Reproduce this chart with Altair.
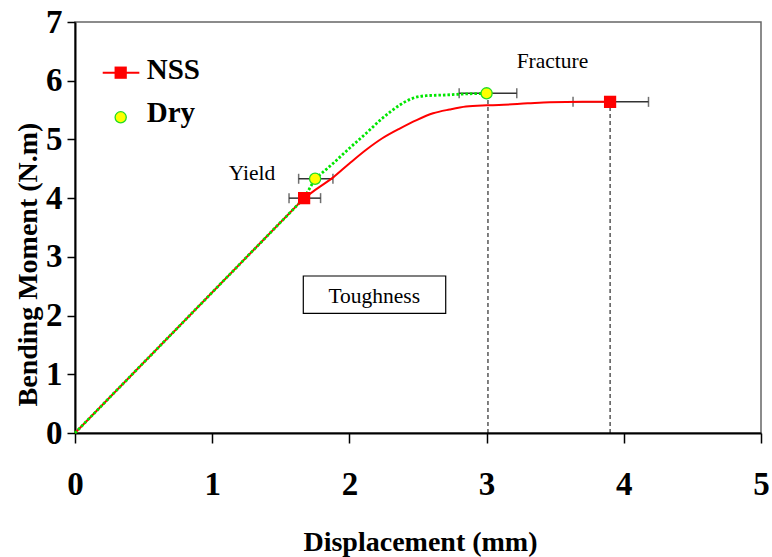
import altair as alt
import pandas as pd

# NSS bending curve (displacement in mm, moment in N.m)
nss_disp = [0.0, 1.67, 1.77, 1.88, 2.00, 2.12, 2.24, 2.37, 2.49, 2.61, 2.73, 2.85, 3.00, 3.09, 3.30, 3.46, 3.70, 3.90]
nss_moment = [0.0, 4.00, 4.17, 4.35, 4.59, 4.82, 5.02, 5.19, 5.33, 5.445, 5.51, 5.56, 5.58, 5.587, 5.615, 5.635, 5.64, 5.64]

# Dry bending curve
dry_disp = [0.0, 1.67, 1.75, 1.88, 2.00, 2.12, 2.24, 2.37, 2.46, 2.56, 2.70, 2.80, 3.00]
dry_moment = [0.0, 4.00, 4.33, 4.59, 4.85, 5.10, 5.36, 5.59, 5.70, 5.745, 5.757, 5.77, 5.785]

# yield / fracture points with displacement spread
pt_series = ["NSS", "NSS", "Dry", "Dry"]
pt_disp = [1.67, 3.90, 1.75, 3.00]
pt_moment = [4.00, 5.64, 4.33, 5.785]
pt_lo = [1.56, 3.63, 1.63, 2.80]
pt_hi = [1.79, 4.18, 1.88, 3.22]

# fracture points dropped to the displacement axis
frac_disp = [3.01, 3.90]
frac_moment = [5.785, 5.64]

SERIF = "Liberation Serif"
RED = "#ff0000"
GREEN = "#00e600"

curve_nss = pd.DataFrame({"d": nss_disp, "m": nss_moment})
curve_dry = pd.DataFrame({"d": dry_disp, "m": dry_moment})
points = pd.DataFrame({"s": pt_series, "d": pt_disp, "m": pt_moment, "lo": pt_lo, "hi": pt_hi})
caps = pd.concat([
    points[["s", "m"]].assign(d=points["lo"]),
    points[["s", "m"]].assign(d=points["hi"]),
])
drops = pd.DataFrame({"d": frac_disp, "m": frac_moment, "base": [0.0] * len(frac_disp)})

xs = alt.Scale(domain=[0, 5], nice=False, zero=False)
ys = alt.Scale(domain=[0, 7], nice=False, zero=False)
x_axis = alt.Axis(values=[0, 1, 2, 3, 4, 5], format="d", title="Displacement (mm)",
                  tickSize=10, labelPadding=25, titleX=345, titleY=117,
                  titleBaseline="alphabetic", titleAlign="center")
y_axis = alt.Axis(values=[0, 1, 2, 3, 4, 5, 6, 7], format="d", title="Bending Moment (N.m)",
                  tickSize=8, labelPadding=5, titleX=-39, titleY=242, titleAngle=270,
                  titleBaseline="alphabetic", titleAlign="center")


def X(field):
    return alt.X(field, type="quantitative", scale=xs, axis=x_axis)


def Y(field):
    return alt.Y(field, type="quantitative", scale=ys, axis=y_axis)


def curve(df, interp, **style):
    return alt.Chart(df).mark_line(interpolate=interp, **style).encode(
        x=X("d"), y=Y("m"), order="d")


drop_lines = alt.Chart(drops).mark_rule(color="black", strokeWidth=1, strokeDash=[4, 3]).encode(
    x=X("d"), y=Y("base"), y2="m")

# "Toughness" label box
box_df = pd.DataFrame({"x1": [1.664], "x2": [2.702], "y1": [2.039], "y2": [2.674]})
box = alt.Chart(box_df).mark_rect(fill="white", stroke="black", strokeWidth=1.2).encode(
    x=X("x1"), x2="x2", y=Y("y1"), y2="y2")

notes_df = pd.DataFrame({
    "t": ["Yield", "Fracture", "Toughness"],
    "x": [1.29, 3.48, 2.181],
    "y": [4.309, 6.211, 2.209],
})
notes = alt.Chart(notes_df).mark_text(font=SERIF, fontSize=21.5, color="black",
                                      align="center", baseline="alphabetic").encode(
    x=X("x"), y=Y("y"), text="t")

err_lines = alt.Chart(points).mark_rule(color="#333333", strokeWidth=1.5).encode(
    x=X("lo"), x2="hi", y=Y("m"))
err_caps = alt.Chart(caps).mark_tick(color="#333333", orient="vertical", size=10, thickness=1.5).encode(
    x=X("d"), y=Y("m"))

# elastic part is straight up to the yield point, plastic part is smooth
nss_style = dict(color=RED, strokeWidth=2)
dry_style = dict(color=GREEN, strokeWidth=2.8, strokeDash=[2.5, 2])
line_nss_el = curve(curve_nss.iloc[:2], "linear", **nss_style)
line_nss_pl = curve(curve_nss.iloc[1:], "monotone", **nss_style)
line_dry_el = curve(curve_dry.iloc[:3], "linear", **dry_style)
line_dry_pl = curve(curve_dry.iloc[2:], "monotone", **dry_style)

sq = alt.Chart(points).transform_filter(alt.datum.s == "NSS").mark_point(
    shape="square", filled=True, size=150, color=RED, opacity=1).encode(x=X("d"), y=Y("m"))
circ = alt.Chart(points).transform_filter(alt.datum.s == "Dry").mark_point(
    shape="circle", filled=True, size=125, fill="#ffff00", stroke="#22dd22", strokeWidth=1.3,
    opacity=1).encode(x=X("d"), y=Y("m"))

# legend drawn inside the plot area
leg_line = pd.DataFrame({"x1": [0.202], "x2": [0.469], "y": [6.137]})
leg_sym = pd.DataFrame({"s": ["NSS", "Dry"], "x": [0.333, 0.333], "y": [6.137, 5.377]})
leg_txt = pd.DataFrame({"t": ["NSS", "Dry"], "x": [0.523, 0.523], "y": [6.024, 5.302]})

leg_rule = alt.Chart(leg_line).mark_rule(color=RED, strokeWidth=2).encode(x=X("x1"), x2="x2", y=Y("y"))
leg_sq = alt.Chart(leg_sym).transform_filter(alt.datum.s == "NSS").mark_point(
    shape="square", filled=True, size=150, color=RED, opacity=1).encode(x=X("x"), y=Y("y"))
leg_circ = alt.Chart(leg_sym).transform_filter(alt.datum.s == "Dry").mark_point(
    shape="circle", filled=True, size=125, fill="#ffff00", stroke="#22dd22", strokeWidth=1.3,
    opacity=1).encode(x=X("x"), y=Y("y"))
leg_text = alt.Chart(leg_txt).mark_text(font=SERIF, fontSize=29, fontWeight="bold", color="black",
                                        align="left", baseline="alphabetic").encode(
    x=X("x"), y=Y("y"), text="t")

chart = alt.layer(
    drop_lines, box, notes, err_lines, err_caps,
    line_nss_el, line_nss_pl, line_dry_el, line_dry_pl, sq, circ,
    leg_rule, leg_sq, leg_circ, leg_text,
).properties(
    width=686, height=411,
    autosize=alt.AutoSizeParams(type="none"),
    padding={"left": 75, "top": 22, "right": 11, "bottom": 124},
    background="white",
).configure_view(
    stroke="#666666", strokeWidth=1.5,
).configure_axis(
    grid=False, domainColor="black", domainWidth=2, tickColor="black", tickWidth=1.5,
    labelFont=SERIF, labelFontWeight="bold", labelFontSize=33, labelColor="black",
    titleFont=SERIF, titleFontWeight="bold", titleFontSize=28, titleColor="black",
    labelFlush=False, labelOverlap=False,
)

chart.save("out.html", embed_options={"renderer": "svg", "actions": False})
